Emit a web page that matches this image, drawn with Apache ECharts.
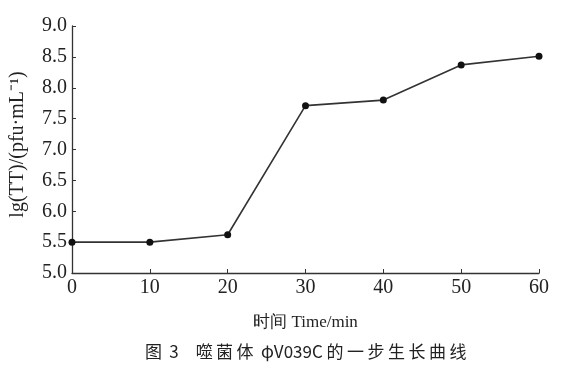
<!DOCTYPE html>
<html><head><meta charset="utf-8">
<script src="https://cdn.jsdelivr.net/npm/echarts@6/dist/echarts.min.js"></script>
<style>html,body{margin:0;padding:0;background:#fff}#wrap{position:relative;width:563px;height:375px}#c{width:563px;height:375px}
#cap{position:absolute;left:52px;width:511px;top:339px;text-align:center;font-family:'Noto Sans CJK SC';font-size:17px;color:#222;line-height:24px;white-space:pre}
#cap .w{letter-spacing:3.5px}</style>
</head><body><div id="wrap"><div id="c"></div><div id="cap"></div></div>
<script>
const times = [0, 10, 20, 30, 40, 50, 60];
const titers = [5.5, 5.5, 5.62, 7.71, 7.8, 8.37, 8.51];
const yTicks = [5.0, 5.5, 6.0, 6.5, 7.0, 7.5, 8.0, 8.5, 9.0];
const xName = '时间 Time/min';
const yName = 'lg(TT)/(pfu·mL⁻¹)';
const caption = '图 3　噬菌体 φV039C 的一步生长曲线';

// caption: CJK runs are letter-spaced as in the typeset original
const cap = document.getElementById('cap');
caption.split(/(\s+)/).forEach(part => {
  const s = document.createElement('span');
  if (/[\u4e00-\u9fff]/.test(part) && !/[A-Za-z0-9]/.test(part)) s.className = 'w';
  s.textContent = part;
  cap.appendChild(s);
});

const chart = echarts.init(document.getElementById('c'));
const serif = 'Liberation Serif';
chart.setOption({
  animation: false,
  backgroundColor: '#fff',
  grid: {left: 72, right: 24, top: 26, bottom: 102},
  xAxis: {
    type: 'value', min: 0, max: 60, interval: 10,
    name: xName, nameLocation: 'middle', nameGap: 41,
    nameTextStyle: {fontFamily: serif, fontSize: 17, color: '#222'},
    axisLine: {lineStyle: {color: '#333', width: 1.3}},
    axisTick: {inside: true, length: 4, lineStyle: {color: '#333'}},
    axisLabel: {fontFamily: serif, fontSize: 20, color: '#222', margin: 5},
    splitLine: {show: false}
  },
  yAxis: {
    type: 'value', min: 5, max: 9, interval: 0.5,
    name: yName, nameLocation: 'middle', nameGap: 44, nameRotate: 90,
    nameTextStyle: {fontFamily: serif, fontSize: 20, color: '#222', padding: [0, 0, 0, 10]},
    axisLine: {show: true, lineStyle: {color: '#333', width: 1.3}},
    axisTick: {show: true, inside: true, length: 4, lineStyle: {color: '#333'}},
    axisLabel: {fontFamily: serif, fontSize: 20, color: '#222', margin: 5,
      formatter: v => yTicks.includes(v) ? v.toFixed(1) : ''},
    splitLine: {show: false}
  },
  series: [{
    type: 'line',
    data: times.map((t, i) => [t, titers[i]]),
    symbol: 'circle', symbolSize: 7,
    itemStyle: {color: '#111'},
    lineStyle: {color: '#333', width: 1.6}
  }]
});
</script></body></html>
